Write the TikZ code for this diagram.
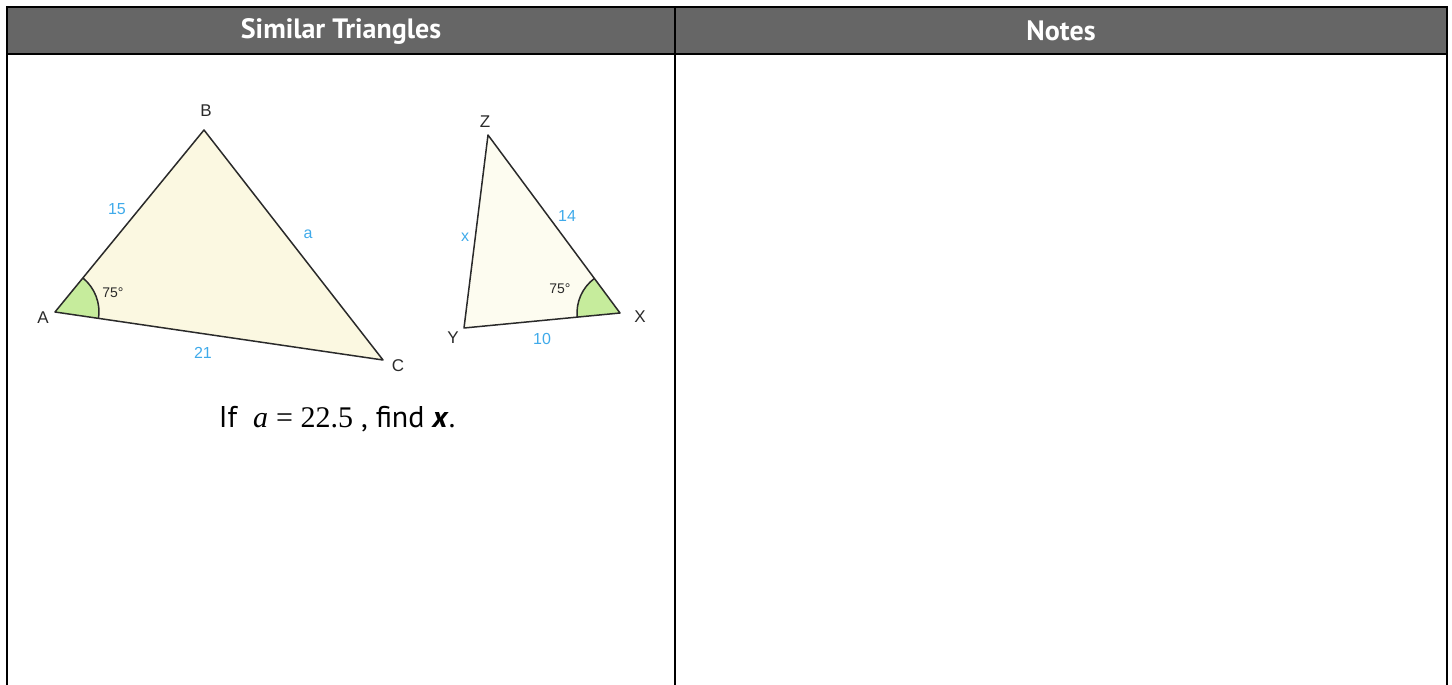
\documentclass[tikz,border=0pt]{standalone}
\usepackage{fontspec}
\setmainfont{PT Sans}
\newfontfamily\labfont{Liberation Sans}
\newfontfamily\serfont{Liberation Serif}
\usetikzlibrary{positioning,calc,angles}
\definecolor{Head}{HTML}{666666}
\definecolor{Cream}{HTML}{FBF8E1}
\definecolor{CreamLt}{HTML}{FDFCF0}
\definecolor{Leaf}{HTML}{C6EC9C}
\definecolor{Sky}{HTML}{3FAAEA}
\definecolor{Ink}{HTML}{2A2A2A}

\begin{document}
\begin{tikzpicture}[x=0.5pt,y=-0.5pt,
    rule/.style={line width=1.1pt,black},
    headtxt/.style={text=white,font=\bfseries\fontsize{14}{16}\selectfont},
    tri/.style={draw=Ink,line width=0.75pt,line join=round},
    vlab/.style={text=Ink,font=\labfont\fontsize{8.5}{10}\selectfont,inner sep=0pt},
    side/.style={text=Sky,font=\labfont\fontsize{8}{10}\selectfont,inner sep=0pt},
    deg/.style={text=Ink,font=\labfont\fontsize{7}{9}\selectfont,inner sep=0pt},
    wedge/.style={draw=Ink,line width=0.75pt,fill=Leaf,angle radius=22pt}]
    \useasboundingbox (0,0) rectangle (1452,685);
    % table
    \fill[Head] (7,7) rectangle (1447,54);
    \draw[rule] (7,685) -- (7,7) -- (1447,7) -- (1447,685);
    \draw[rule] (7,54) -- (1447,54);
    \draw[rule] (675,7) -- (675,685);
    \node[headtxt] (h1) at (341,31) {Similar Triangles};
    \node[headtxt] (h2) at (1061,31) {Notes};
    % triangle ABC
    \coordinate (A) at (55,312);
    \coordinate (B) at (204,130);
    \coordinate (C) at (383,360);
    \fill[Cream] (A) -- (B) -- (C) -- cycle;
    \pic[wedge] {angle=C--A--B};
    \draw[tri] (A) -- (B) -- (C) -- cycle;
    % triangle XYZ
    \coordinate (X) at (620,313);
    \coordinate (Y) at (464,328);
    \coordinate (Z) at (488,135);
    \fill[CreamLt] (X) -- (Y) -- (Z) -- cycle;
    \pic[wedge,angle radius=21.5pt] {angle=Z--X--Y};
    \draw[tri] (X) -- (Y) -- (Z) -- cycle;
    % vertex letters
    \foreach \name/\x/\y/\txt in {lA/43/318/A,lB/206/111/B,lC/398/366/C,lX/640/317/X,lY/453/338/Y,lZ/485/122/Z}{
      \node[vlab] (\name) at (\x,\y) {\txt};
    }
    % side lengths
    \foreach \name/\x/\y/\txt in {s15/117/209/15,sa/308/234/a,s21/203/353/21,s14/567/216/14,sx/465/237/x,s10/542/339/10}{
      \node[side] (\name) at (\x,\y) {\txt};
    }
    \node[deg] (dA) at (113,293) {75°};
    \node[deg] (dX) at (560,289) {75°};
    % question
    \node[font=\fontsize{15}{18}\selectfont,anchor=base] (q) at (337,427)
      {If\ \ {\serfont\itshape a} {\serfont = 22.5} , find \textbf{\textit{x}}.};
\end{tikzpicture}
\end{document}
